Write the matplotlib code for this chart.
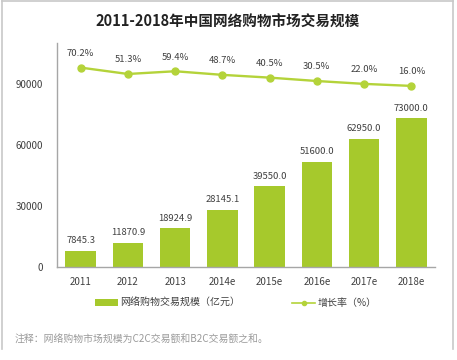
import matplotlib
matplotlib.use("Agg")
import matplotlib.pyplot as plt
from matplotlib.patches import Patch
from matplotlib.lines import Line2D

plt.rcParams['font.family'] = ['Noto Sans CJK SC', 'DejaVu Sans']

title = "2011-2018年中国网络购物市场交易规模"
categories = ["2011", "2012", "2013", "2014e", "2015e", "2016e", "2017e", "2018e"]
volume = [7845.3, 11870.9, 18924.9, 28145.1, 39550.0, 51600.0, 62950.0, 73000.0]
growth = [70.2, 51.3, 59.4, 48.7, 40.5, 30.5, 22.0, 16.0]
yticks = [0, 30000, 60000, 90000]
bar_label = "网络购物交易规模（亿元）"
line_label = "增长率（%）"
note = "注释：网络购物市场规模为C2C交易额和B2C交易额之和。"

W, H = 457, 360
fig = plt.figure(figsize=(W / 100, H / 100), dpi=100)

bar_color = '#a6c92c'
line_color = '#b4d33a'
text_color = '#404040'

# axes placement in pixels
L, R, T, B = 57, 435, 43, 267
ax = fig.add_axes([L / W, 1 - B / H, (R - L) / W, (B - T) / H])
x = list(range(len(categories)))
ax.bar(x, volume, width=0.65, color=bar_color, zorder=2)
ax.set_xlim(-0.5, len(categories) - 0.5)
ax.set_ylim(0, 110000)
ax.set_yticks(yticks)
ax.set_yticklabels([str(v) for v in yticks])
ax.set_xticks(x)
ax.set_xticklabels(categories)
ax.tick_params(axis='both', length=0, labelsize=7, colors=text_color)
ax.tick_params(axis='y', pad=10)
ax.tick_params(axis='x', pad=7)
for s in ['top', 'right']:
    ax.spines[s].set_visible(False)
for s in ['left', 'bottom']:
    ax.spines[s].set_color('#a6a6a6')
    ax.spines[s].set_linewidth(1.0)
for xi, v in zip(x, volume):
    ax.annotate(f"{v:.1f}", (xi, v), xytext=(0, 4), textcoords='offset points',
                ha='center', va='bottom', fontsize=6.8, color=text_color)

ax2 = ax.twinx()
ax2.plot(x, growth, color=line_color, lw=1.7, marker='o', markersize=5, zorder=3)
ax2.set_ylim(-520, 143)
ax2.set_yticks([])
for s in ax2.spines.values():
    s.set_visible(False)
for xi, g in zip(x, growth):
    ax2.annotate(f"{g:.1f}%", (xi, g), xytext=(0, 7), textcoords='offset points',
                 ha='center', va='bottom', fontsize=6.8, color=text_color)

fig.text(228 / W, 1 - 22 / H, title, ha='center', va='center', fontsize=10.5,
         fontweight='bold', color='#222222')

handles = [Patch(facecolor=bar_color, edgecolor='none'),
           Line2D([0], [0], color=line_color, lw=1.2, marker='o', markersize=3)]
leg = fig.legend(handles, [bar_label, line_label], loc='center',
                 bbox_to_anchor=(236 / W, 1 - 303 / H), ncol=2, frameon=False,
                 fontsize=7.2, handlelength=2.3, handleheight=0.6, handletextpad=0.2,
                 columnspacing=5.2, labelcolor=text_color)

fig.text(15 / W, 1 - 340 / H, note, ha='left', va='center', fontsize=7.1, color='#9a9a9a')

# outer frame (left, top, right)
frame_color = '#c8c8c8'
fig.add_artist(Line2D([1.5 / W, 1.5 / W], [1 - 349 / H, 1 - 1 / H], color=frame_color, lw=1.2))
fig.add_artist(Line2D([1.5 / W, 453 / W], [1 - 1 / H, 1 - 1 / H], color=frame_color, lw=1.2))
fig.add_artist(Line2D([453 / W, 453 / W], [1 - 349 / H, 1 - 1 / H], color=frame_color, lw=1.2))

fig.savefig("out.png", dpi=100)
